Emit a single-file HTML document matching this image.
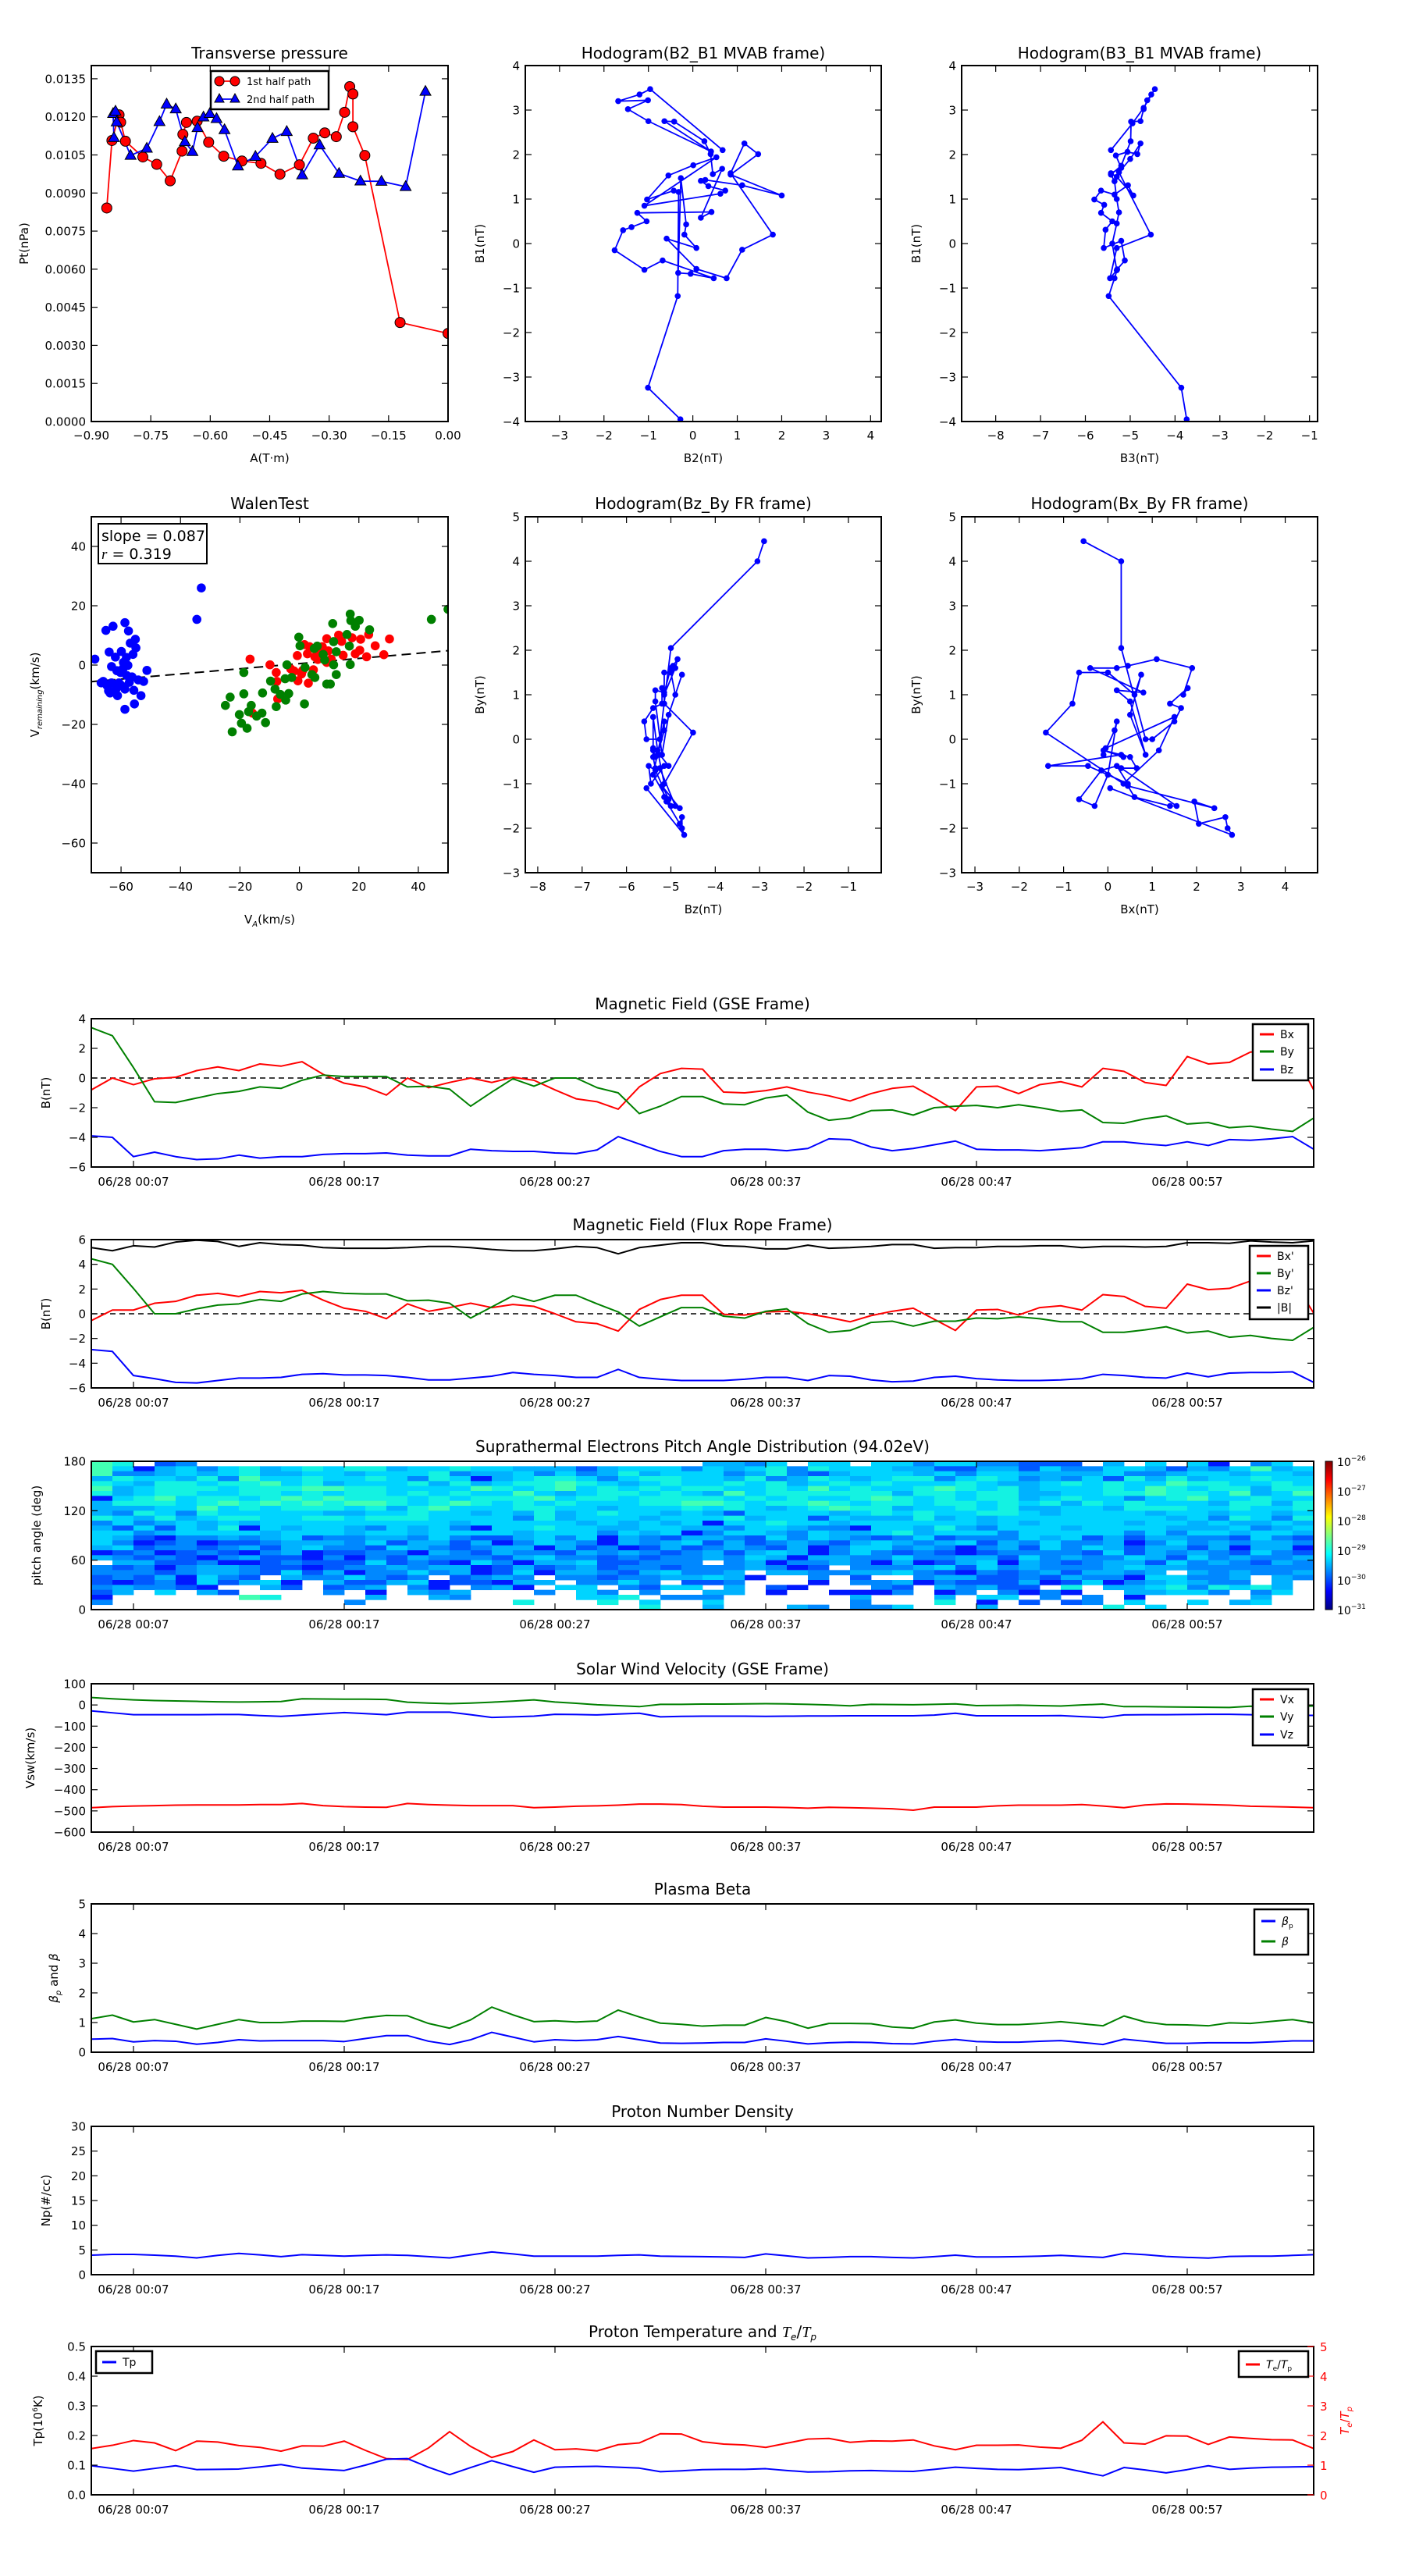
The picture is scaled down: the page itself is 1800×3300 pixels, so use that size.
<!DOCTYPE html>
<html><head><meta charset="utf-8">
<style>
html,body{margin:0;padding:0;background:#fff}
svg{display:block}
text{font-family:"DejaVu Sans","Liberation Sans",sans-serif;fill:#000}
</style></head>
<body>
<svg id="fig" width="1800" height="3300" viewBox="0 0 1800 3300">
<defs>
<linearGradient id="jet" x1="0" y1="1" x2="0" y2="0">
<stop offset="0" stop-color="#000080"/><stop offset="0.125" stop-color="#0000ff"/><stop offset="0.375" stop-color="#00ffff"/><stop offset="0.625" stop-color="#ffff00"/><stop offset="0.875" stop-color="#ff0000"/><stop offset="1" stop-color="#800000"/>
</linearGradient>
</defs>
</svg>
<script>
// ---------------- DATA ----------------
const tpRedA=[-0.861,-0.848,-0.830,-0.826,-0.814,-0.770,-0.735,-0.701,-0.671,-0.669,-0.660,-0.633,-0.604,-0.566,-0.520,-0.472,-0.424,-0.375,-0.340,-0.311,-0.282,-0.261,-0.248,-0.240,-0.240,-0.210,-0.121,0.0];
const tpRedP=[0.00841,0.01107,0.01208,0.01179,0.01104,0.01042,0.01013,0.00948,0.01065,0.01131,0.01178,0.01183,0.0110,0.01045,0.01026,0.01017,0.00974,0.01011,0.01116,0.01137,0.01122,0.01218,0.01319,0.0129,0.01161,0.01048,0.0039,0.00347];
const tpBlueA=[-0.843,-0.845,-0.839,-0.836,-0.801,-0.760,-0.728,-0.710,-0.687,-0.664,-0.645,-0.632,-0.617,-0.601,-0.584,-0.564,-0.530,-0.486,-0.443,-0.407,-0.368,-0.324,-0.275,-0.221,-0.168,-0.107,-0.057];
const tpBlueP=[0.01118,0.01213,0.01222,0.0118,0.01048,0.01076,0.01181,0.0125,0.01231,0.01102,0.01063,0.01157,0.01199,0.01213,0.01193,0.01149,0.01006,0.01044,0.01115,0.01142,0.00971,0.01089,0.00977,0.00947,0.00946,0.00925,0.013];
const tpXTicks=[-0.90,-0.75,-0.60,-0.45,-0.30,-0.15,0.00];
const tpYTicks=[0,0.0015,0.003,0.0045,0.006,0.0075,0.009,0.0105,0.012,0.0135];
const h1B2=[-0.28,-1.01,-0.34,-0.32,-0.43,-1.03,-0.55,0.01,0.53,-1.09,0.62,0.73,0.35,0.18,0.28,1.11,2.0,0.85,1.47,1.16,0.85,1.80,1.11,0.76,0.08,-0.59,0.08,-0.19,-0.15,-0.27,-0.33,-0.05,0.47,-0.68,-1.09,-1.76,-1.57,-1.38,-1.04,-1.25,0.42,0.18,0.66,0.45,0.40,0.26,-0.42,-0.64,0.41,-1.0,-1.46,-1.01,-1.68,-1.2,-0.96,0.67];
const h1B1=[-3.95,-3.24,-1.18,1.16,1.19,0.99,1.53,1.76,1.94,0.85,1.12,1.19,1.29,1.41,1.43,1.31,1.08,1.55,2.01,2.25,1.58,0.2,-0.14,-0.78,-0.57,0.11,-0.1,0.2,0.43,1.47,-0.66,-0.68,-0.78,-0.38,-0.59,-0.15,0.3,0.37,0.5,0.69,0.71,0.58,1.68,1.56,2.01,2.3,2.74,2.75,2.07,2.75,3.02,3.22,3.2,3.35,3.47,2.1];
const h2B3=[-3.74,-3.86,-5.48,-5.35,-5.29,-5.12,-5.2,-5.59,-5.55,-5.4,-5.65,-5.58,-5.8,-5.65,-5.35,-5.05,-4.93,-5.3,-5.43,-5.2,-5.32,-5.06,-4.84,-4.77,-5.0,-5.25,-4.54,-5.3,-5.45,-5.3,-5.4,-5.3,-5.25,-5.3,-5.35,-5.43,-5.2,-4.99,-4.98,-4.77,-4.7,-4.62,-4.53,-4.45,-4.7,-4.95,-5.43];
const h2B1=[-3.95,-3.24,-1.18,-0.78,-0.58,-0.38,0.06,-0.1,0.31,0.5,0.69,0.87,0.99,1.19,1.1,1.31,1.08,1.5,1.58,1.7,1.98,2.06,2.01,2.25,1.9,1.6,0.2,-0.1,-0.78,-0.6,0.0,0.45,0.7,1.0,1.4,1.55,1.75,2.3,2.74,2.75,3.02,3.22,3.35,3.47,3.05,2.7,2.1];
const wBlueX=[-68.8,-66.7,-65.1,-64,-62.7,-61.9,-63.2,-58.7,-57.5,-59.9,-55.2,-56.9,-55,-56,-58.2,-59.3,-57.7,-60.2,-61.4,-58.1,-56.3,-54.2,-52.4,-51.3,-55.7,-53.3,-55.5,-58.7,-61.2,-63.7,-64.7,-63.2,-59.9,-58.7,-61.7,-64.2,-60.7,-57.2,-59.2,-34.5,-33,-66,-64.5];
const wBlueY=[2.0,-6,11.7,4.4,13.1,2.7,-0.5,14.3,11.5,4.6,8.7,7.4,5.8,3.6,2.6,-1.1,-0.1,-2.5,-1.9,-3.5,-4,-5,-5.5,-1.8,-8.5,-10.3,-13.1,-14.9,-10.3,-9.4,-6.9,-6,-6.9,-8.1,-8.1,-8.7,-6,-5.8,0.9,15.4,26,-5.5,-7];
const wRedX=[-16.6,-9.9,-7.8,-7.6,-7.3,-15.8,-0.7,-0.5,3,1.1,2.7,1.7,3.4,5.2,7.2,7.7,9.2,9.7,9.2,13.2,14.2,14.7,10.7,17.7,18.8,20.3,20.6,23.3,22.6,25.5,28.4,30.3,-2.9,-1.8,0.7,4.7,6.2];
const wRedY=[2.0,0.1,-2.5,-5.5,-11.4,-16.2,3.2,-5.3,-6.1,-1.8,3.8,6.9,6.2,2.8,4.8,6.2,0.9,4.8,8.9,10.1,8,3.3,2.0,9.2,3.8,5,8.7,10.3,2.8,6.5,3.5,8.8,-1.3,-2,-3,-1.6,1.9];
const wGreenX=[-22.6,-24.9,-23.3,-20.2,-19.5,-17.6,-18.7,-18.7,-16.2,-17.1,-14.4,-12.6,-11.4,-12.4,-9.7,-8.2,-7.8,-6.4,-4.6,-3.6,-4.2,-4.8,-2.6,-0.2,0.2,1.7,1.9,4.2,5.2,5,6,8,8.5,9.2,10.4,11.2,11.5,11.5,12.4,12.4,16,16.8,17.1,17.1,17.3,18.8,20.1,23.6,44.4,50];
const wGreenY=[-22.5,-13.6,-10.8,-16.7,-19.6,-21.3,-2.5,-9.7,-13.6,-15.7,-17.2,-16.2,-19.4,-9.4,-5.4,-8.1,-14,-9.9,-11.8,-9.6,0.1,-4.6,-4.2,9.4,6.5,-13.1,-0.8,-3.2,-4.2,5.6,6.4,3.6,1.7,-6.4,-6.4,14,7.9,0.1,-3.2,4.5,10.3,6.4,17.2,0.2,15,13.1,15.1,11.9,15.4,18.8];
const walenSlope=[0.087];
const walenIntercept=[0.5];
const tStart=5;
const timeTickMin=[7,17,27,37,47,57];
const timeTickLbl=['06/28 00:07','06/28 00:17','06/28 00:27','06/28 00:37','06/28 00:47','06/28 00:57'];
const gseBx=[-0.8,0,-0.45,-0.05,0.05,0.5,0.75,0.5,0.95,0.8,1.1,0.25,-0.35,-0.6,-1.15,0,-0.65,-0.3,0,-0.3,0.05,-0.15,-0.8,-1.4,-1.6,-2.1,-0.6,0.3,0.65,0.6,-0.95,-1.0,-0.85,-0.6,-0.95,-1.2,-1.55,-1.05,-0.7,-0.55,-1.35,-2.2,-0.6,-0.55,-1.05,-0.45,-0.25,-0.6,0.65,0.45,-0.3,-0.5,1.45,0.95,1.05,1.75,1.85,1.9,-0.8];
const gseBy=[3.4,2.85,0.7,-1.6,-1.65,-1.35,-1.05,-0.9,-0.6,-0.7,-0.15,0.2,0.1,0.1,0.1,-0.6,-0.55,-0.75,-1.9,-0.95,-0.05,-0.55,0,0,-0.65,-1.0,-2.4,-1.9,-1.25,-1.25,-1.75,-1.8,-1.35,-1.15,-2.3,-2.85,-2.7,-2.2,-2.15,-2.5,-2.0,-1.9,-1.85,-2.0,-1.8,-2.0,-2.25,-2.15,-3.0,-3.05,-2.75,-2.55,-3.1,-3.0,-3.35,-3.25,-3.45,-3.6,-2.7];
const gseBz=[-3.9,-4.0,-5.3,-5.0,-5.3,-5.5,-5.45,-5.2,-5.4,-5.3,-5.3,-5.15,-5.1,-5.1,-5.05,-5.2,-5.25,-5.25,-4.8,-4.9,-4.95,-4.95,-5.05,-5.1,-4.85,-3.95,-4.45,-4.95,-5.3,-5.3,-4.9,-4.8,-4.8,-4.9,-4.75,-4.1,-4.15,-4.65,-4.9,-4.75,-4.5,-4.25,-4.8,-4.85,-4.85,-4.9,-4.8,-4.7,-4.3,-4.3,-4.45,-4.55,-4.3,-4.55,-4.15,-4.2,-4.1,-3.95,-4.8];
const frBx=[-0.55,0.3,0.3,0.85,1.0,1.5,1.65,1.4,1.8,1.7,1.9,1.1,0.45,0.2,-0.4,0.8,0.2,0.5,0.85,0.5,0.75,0.6,0,-0.65,-0.8,-1.4,0.35,1.15,1.5,1.5,-0.05,-0.1,0.15,0.2,0,-0.3,-0.65,-0.15,0.2,0.45,-0.45,-1.35,0.3,0.35,-0.1,0.5,0.65,0.3,1.55,1.4,0.6,0.45,2.4,1.95,2.05,2.65,2.7,2.8,0.05];
const frBy=[4.45,4.0,2.05,0,0,0.4,0.7,0.8,1.15,1.0,1.6,1.8,1.65,1.6,1.6,1.05,1.1,0.85,-0.35,0.55,1.45,1.0,1.5,1.5,0.8,0.15,-1.0,-0.25,0.5,0.5,-0.2,-0.35,0.2,0.4,-0.8,-1.5,-1.35,-0.7,-0.6,-1.0,-0.6,-0.6,-0.35,-0.4,-0.25,-0.4,-0.65,-0.65,-1.5,-1.5,-1.3,-1.05,-1.55,-1.4,-1.9,-1.75,-2.0,-2.15,-1.1];
const frBz=[-2.9,-3.05,-5.0,-5.25,-5.55,-5.6,-5.4,-5.2,-5.2,-5.15,-4.9,-4.85,-4.95,-4.95,-5.0,-5.15,-5.35,-5.35,-5.2,-5.05,-4.75,-4.9,-5.0,-5.15,-5.15,-4.5,-5.15,-5.3,-5.4,-5.4,-5.4,-5.3,-5.15,-5.15,-5.4,-5.0,-5.05,-5.35,-5.5,-5.45,-5.15,-5.05,-5.25,-5.35,-5.4,-5.4,-5.35,-5.25,-4.9,-5.0,-5.15,-5.2,-4.8,-5.1,-4.8,-4.75,-4.75,-4.7,-5.55];
const frBt=[5.35,5.1,5.5,5.4,5.8,5.95,5.85,5.45,5.75,5.6,5.55,5.35,5.3,5.3,5.3,5.35,5.45,5.45,5.35,5.2,5.1,5.1,5.25,5.45,5.35,4.85,5.35,5.55,5.75,5.75,5.5,5.45,5.25,5.25,5.55,5.3,5.35,5.45,5.6,5.6,5.3,5.35,5.35,5.45,5.45,5.5,5.5,5.35,5.45,5.45,5.4,5.45,5.75,5.75,5.7,5.9,5.8,5.75,5.9];
const swVx=[-485,-480,-477,-475,-473,-472,-472,-472,-470,-470,-465,-475,-480,-482,-483,-465,-470,-473,-475,-475,-475,-485,-482,-478,-476,-473,-468,-468,-470,-478,-482,-482,-482,-484,-487,-483,-485,-487,-490,-497,-482,-482,-482,-476,-473,-473,-473,-470,-477,-485,-472,-467,-468,-470,-473,-478,-480,-482,-485];
const swVy=[35,29,24,21,19,17,15,14,15,16,29,28,27,27,26,13,9,6,9,13,18,24,14,8,1,-3,-8,3,3,4,4,5,6,5,3,0,-4,3,2,1,3,5,-3,-2,-1,-3,-5,0,4,-8,-8,-9,-10,-11,-12,-6,-8,-6,-5];
const swVz=[-28,-37,-46,-46,-46,-46,-45,-45,-50,-54,-48,-42,-36,-41,-46,-34,-34,-34,-46,-59,-56,-53,-44,-45,-47,-43,-39,-56,-54,-53,-53,-53,-54,-53,-52,-52,-51,-51,-51,-51,-48,-39,-51,-51,-51,-51,-50,-55,-60,-47,-46,-46,-45,-44,-44,-46,-50,-49,-49];
const betaP=[0.44,0.46,0.35,0.39,0.37,0.27,0.33,0.42,0.38,0.39,0.39,0.39,0.36,0.46,0.56,0.56,0.37,0.26,0.42,0.67,0.51,0.35,0.42,0.39,0.42,0.53,0.42,0.31,0.30,0.31,0.33,0.33,0.45,0.37,0.28,0.32,0.34,0.33,0.29,0.28,0.37,0.43,0.36,0.34,0.34,0.37,0.39,0.33,0.26,0.44,0.37,0.30,0.30,0.32,0.32,0.32,0.35,0.38,0.38];
const betaT=[1.13,1.25,1.02,1.1,0.94,0.78,0.94,1.1,1.0,1.0,1.05,1.05,1.04,1.16,1.24,1.23,0.97,0.81,1.09,1.52,1.26,1.03,1.06,1.02,1.05,1.42,1.19,0.98,0.94,0.88,0.91,0.91,1.17,1.03,0.81,0.97,0.97,0.96,0.85,0.81,1.02,1.09,0.98,0.93,0.93,0.97,1.03,0.96,0.89,1.22,1.02,0.93,0.92,0.89,0.99,0.97,1.04,1.1,0.99];
const densNp=[3.95,4.1,4.1,3.95,3.75,3.4,3.9,4.3,4.0,3.65,4.05,3.9,3.75,3.9,4.0,3.9,3.65,3.4,4.0,4.6,4.2,3.75,3.75,3.75,3.75,3.9,4.0,3.75,3.7,3.65,3.6,3.5,4.2,3.8,3.4,3.5,3.65,3.65,3.5,3.4,3.65,3.95,3.6,3.6,3.65,3.75,3.9,3.7,3.5,4.3,4.05,3.7,3.5,3.35,3.7,3.75,3.75,3.9,4.05];
const tempTp=[0.098,0.089,0.080,0.089,0.098,0.085,0.086,0.087,0.094,0.102,0.090,0.086,0.082,0.100,0.120,0.122,0.093,0.068,0.092,0.115,0.095,0.076,0.093,0.095,0.096,0.093,0.090,0.078,0.081,0.085,0.086,0.086,0.088,0.082,0.077,0.078,0.081,0.082,0.080,0.079,0.086,0.093,0.089,0.086,0.085,0.088,0.092,0.078,0.064,0.092,0.084,0.074,0.085,0.098,0.086,0.090,0.093,0.094,0.095];
const tempRatio=[1.56,1.67,1.83,1.75,1.49,1.81,1.78,1.66,1.6,1.47,1.65,1.64,1.81,1.5,1.22,1.19,1.58,2.13,1.63,1.26,1.46,1.85,1.52,1.55,1.48,1.69,1.75,2.06,2.05,1.79,1.71,1.68,1.6,1.74,1.88,1.9,1.77,1.82,1.81,1.85,1.65,1.52,1.67,1.67,1.68,1.61,1.57,1.84,2.46,1.75,1.71,1.99,1.98,1.7,1.95,1.9,1.86,1.85,1.56];
const padRows=[
"76.23........................4435.55.5535533222.4.5.51.35.567",
"75145356456566455655444245553545636555442244253355424357455",
"73345456445545556344535346455534632455545355444453345545545",
"46554637556556536514566535665546346545663565343526464556556",
"65466566756455564645667654565565645656555654456565576655655",
"74566656667766555576567565656655657565567656455565765664664",
"64566556656566565655754566565475666666466566445566766574574",
"15675665676766656566675665666656565567656566456553567556556",
"46665676767677656765656555667765667656656656564656555466466",
"44455756566656467555665545556565456766455656445546665565565",
"43653655555445565545464565545425555456565566545555455455455",
"65464566556656665555364555455564552544464545555555545365365",
"35345454555555555455555454545155655455555545455554554544544",
"42525461545543545315565544554435543315546435554555544453453",
"55345555455545545555455535451355435445645553555553535545545",
"54213343452334435322453514324432535432352333545242443325325",
"53123122344435244241354314345242343245434524353341353434434",
"45233234245332543234414231242343241355343134253542442414414",
"12312321341223314324332434323424541353232123333252434325325",
"43232134221313243332453323233435414433533442534335425343343",
".4422311232225232153144522333.34133431412451432344253432432",
"32313443221233434412423423323334312.33345253433345443333333",
"3332344325241335341251443245334.4433445321323424434.4343343",
"23241532.4335323.2343.3323344541..3.2..3442232433155334.43",
"2123152451.42245122144.3353.223...1.3341322241251345433.4.3",
"343321..42.234.31.341.55.3255.4.21...32.43422.6.445636564",
"24.5.42....3.1.434...3.53.3..44.1..1113.13.3131..44553.35.4",
"1......76....4..43.....556.333......4...4.55.3.3.1.....4...",
"3...........3.......6...6.5..5......3...6.1.2.23.5..5.45...",
"..........................6..4...43.335...4.....6.5........."];
const padLevelColor={'1':'#0018ff','2':'#0058ff','3':'#0088ff','4':'#00b2ff','5':'#00d4ff','6':'#14f2e2','7':'#42ffb4'};
const cbLabels=['-26','-27','-28','-29','-30','-31'];

// ---------------- HELPERS ----------------
const NS='http://www.w3.org/2000/svg';
const svg=document.getElementById('fig');
function mk(tag,attrs,parent){const e=document.createElementNS(NS,tag);for(const k in attrs)e.setAttribute(k,attrs[k]);(parent||svg).appendChild(e);return e;}
function lin(d0,d1,r0,r1){return v=>r0+(v-d0)/(d1-d0)*(r1-r0);}
function mstr(v,d){const s=Math.abs(v).toFixed(d);return (v<-1e-12?'\u2212':'')+s;}
let clipN=0;
function panel(name,x0,y0,w,h,xd,yd){
  const g=mk('g',{});
  
  
  const id='clip'+(clipN++);
  const cp=mk('clipPath',{id:id},g);
  mk('rect',{x:x0,y:y0,width:w,height:h},cp);
  const dg=mk('g',{'clip-path':'url(#'+id+')'},g);
  
  
  return {g:g,dg:dg,x0:x0,y0:y0,w:w,h:h,X:lin(xd[0],xd[1],x0,x0+w),Y:lin(yd[0],yd[1],y0+h,y0)};
}
function frame(p){
  const r=mk('rect',{x:p.x0,y:p.y0,width:p.w,height:p.h,fill:'none',stroke:'#000','stroke-width':2},p.g);
  
  
}
function title(p,str,y){
  const t=mk('text',{x:p.x0+p.w/2,y:y,'text-anchor':'middle','font-size':20},p.g);
  t.textContent=str;
  
  
  return t;
}
function yTicks(p,vals,fmt,opt){
  opt=opt||{};
  vals.forEach(v=>{
    const y=p.Y(v);
    const t1=mk('line',{x1:p.x0,x2:p.x0+8,y1:y,y2:y,stroke:'#000','stroke-width':1.2},p.g);
    
    
    if(!opt.noRight){
      const t2=mk('line',{x1:p.x0+p.w,x2:p.x0+p.w-8,y1:y,y2:y,stroke:opt.rightColor||'#000','stroke-width':1.2},p.g);
      
      
    }
    const l=mk('text',{x:p.x0-7,y:y+5.5,'text-anchor':'end','font-size':15},p.g);
    l.textContent=fmt(v);
    
    
  });
}
function xTicks(p,vals,labels,opt){
  opt=opt||{};
  vals.forEach((v,i)=>{
    const x=p.X(v);
    const t1=mk('line',{x1:x,x2:x,y1:p.y0+p.h,y2:p.y0+p.h-8,stroke:'#000','stroke-width':1.2},p.g);
    
    
    const t2=mk('line',{x1:x,x2:x,y1:p.y0,y2:p.y0+8,stroke:'#000','stroke-width':1.2},p.g);
    
    
    const l=mk('text',{x:x,y:p.y0+p.h+(opt.dy||22),'text-anchor':'middle','font-size':15},p.g);
    l.textContent=labels[i];
    
    
  });
}
function xLabel(p,str,y){
  const t=mk('text',{x:p.x0+p.w/2,y:y,'text-anchor':'middle','font-size':15},p.g);
  t.textContent=str;
  
  
  return t;
}
function yLabel(p,str,x,color){
  const cy=p.y0+p.h/2;
  const t=mk('text',{x:x,y:cy,'text-anchor':'middle','font-size':15,transform:'rotate(-90 '+x+' '+cy+')'},p.g);
  if(color)t.setAttribute('style','fill:'+color);
  t.textContent=str;
  
  
  return t;
}
function line(p,xs,ys,color,w,name){
  let d='';
  for(let i=0;i<ys.length;i++){d+=(i?'L':'M')+p.X(xs[i]).toFixed(2)+','+p.Y(ys[i]).toFixed(2);}
  const pa=mk('path',{d:d,fill:'none',stroke:color,'stroke-width':w,'stroke-linejoin':'round'},p.dg);
  
  
  return pa;
}
function tArr(n){const a=[];for(let i=0;i<n;i++)a.push(tStart+i);return a;}
function legendBox(p,x,y,w,h){
  const r=mk('rect',{x:x,y:y,width:w,height:h,fill:'#fff',stroke:'#000','stroke-width':2.5},p.g);
  
  
}
function legendEntry(p,x,y,color,label,fs){
  const g=mk('g',{},p.g);
  
  
  mk('line',{x1:x,x2:x+18,y1:y,y2:y,stroke:color,'stroke-width':3},g);
  const t=mk('text',{x:x+26,y:y+5,'font-size':fs||14},g);
  t.innerHTML=label;
  return g;
}

// ---------------- ROW 1 ----------------
(function(){
  const p=panel('transverse-pressure-chart',117,84,457,456,[-0.9,0],[0,0.01402]);
  title(p,'Transverse pressure',75);
  line(p,tpRedA,tpRedP,'#ff0000',1.8,'first-half-path-line');
  line(p,tpBlueA,tpBlueP,'#0000ff',1.8,'second-half-path-line');
  tpRedA.forEach((a,i)=>{
    const c=mk('circle',{cx:p.X(a),cy:p.Y(tpRedP[i]),r:6.5,fill:'#ff0000',stroke:'#000','stroke-width':1},p.dg);
    
    
  });
  tpBlueA.forEach((a,i)=>{
    const x=p.X(a),y=p.Y(tpBlueP[i]);
    const t=mk('polygon',{points:(x)+','+(y-7.5)+' '+(x-7)+','+(y+5)+' '+(x+7)+','+(y+5),fill:'#0000ff',stroke:'#000','stroke-width':1},p.dg);
    
    
  });
  frame(p);
  yTicks(p,tpYTicks,v=>v.toFixed(4));
  xTicks(p,tpXTicks,tpXTicks.map(v=>mstr(v,2)),{dy:23});
  xLabel(p,'A(T\u00b7m)',592);
  yLabel(p,'Pt(nPa)',36);
  legendBox(p,270,91,151,49);
  const lg1=mk('g',{},p.g);
  
  
  mk('line',{x1:281,x2:301,y1:104,y2:104,stroke:'#ff0000','stroke-width':1.8},lg1);
  mk('circle',{cx:281,cy:104,r:6,fill:'#ff0000',stroke:'#000'},lg1);
  mk('circle',{cx:301,cy:104,r:6,fill:'#ff0000',stroke:'#000'},lg1);
  const lt1=mk('text',{x:316,y:109,'font-size':13},lg1); lt1.textContent='1st half path';
  const lg2=mk('g',{},p.g);
  
  
  mk('line',{x1:281,x2:301,y1:127,y2:127,stroke:'#0000ff','stroke-width':1.8},lg2);
  mk('polygon',{points:'281,120 275,131 287,131',fill:'#0000ff',stroke:'#000'},lg2);
  mk('polygon',{points:'301,120 295,131 307,131',fill:'#0000ff',stroke:'#000'},lg2);
  const lt2=mk('text',{x:316,y:132,'font-size':13},lg2); lt2.textContent='2nd half path';
})();

function hodo(name,x0,y0,w,h,xd,yd,xs,ys,xt,yt,ttl,ttlY,xl,xlY,yl,ylX){
  const p=panel(name,x0,y0,w,h,xd,yd);
  title(p,ttl,ttlY);
  line(p,xs,ys,'#0000ff',1.8,'hodogram-path');
  xs.forEach((v,i)=>{
    const c=mk('circle',{cx:p.X(v),cy:p.Y(ys[i]),r:3.8,fill:'#0000ff'},p.dg);
    
    
  });
  frame(p);
  yTicks(p,yt,v=>mstr(v,0));
  xTicks(p,xt,xt.map(v=>mstr(v,0)),{dy:23});
  xLabel(p,xl,xlY);
  yLabel(p,yl,ylX);
  return p;
}
hodo('hodogram-b2-b1-chart',673,84,456,456,[-3.77,4.24],[-4,4],h1B2,h1B1,[-3,-2,-1,0,1,2,3,4],[-4,-3,-2,-1,0,1,2,3,4],'Hodogram(B2_B1 MVAB frame)',75,'B2(nT)',592,'B1(nT)',620);
hodo('hodogram-b3-b1-chart',1232,84,456,456,[-8.76,-0.82],[-4,4],h2B3,h2B1,[-8,-7,-6,-5,-4,-3,-2,-1],[-4,-3,-2,-1,0,1,2,3,4],'Hodogram(B3_B1 MVAB frame)',75,'B3(nT)',592,'B1(nT)',1179);

// ---------------- ROW 2 ----------------
(function(){
  const p=panel('walen-test-chart',117,662,457,456,[-70,50],[-70,50]);
  title(p,'WalenTest',652);
  const fx=[-70,50];
  const fy=fx.map(x=>walenSlope[0]*x+walenIntercept[0]);
  const fl=line(p,fx,fy,'#000',2,'walen-fit-line');
  fl.setAttribute('stroke-dasharray','12,7');
  [[wBlueX,wBlueY,'#0000ff','blue-point'],[wRedX,wRedY,'#ff0000','red-point'],[wGreenX,wGreenY,'#008000','green-point']].forEach(s=>{
    s[0].forEach((x,i)=>{
      const c=mk('circle',{cx:p.X(x),cy:p.Y(s[1][i]),r:5.8,fill:s[2]},p.dg);
      
      
    });
  });
  frame(p);
  yTicks(p,[-60,-40,-20,0,20,40],v=>mstr(v,0));
  xTicks(p,[-60,-40,-20,0,20,40],['\u221260','\u221240','\u221220','0','20','40'],{dy:23});
  const xl=xLabel(p,'',1183);
  xl.innerHTML='V<tspan font-style="italic" font-size="10" dy="4">A</tspan><tspan dy="-4">(km/s)</tspan>';
  const yl=yLabel(p,'',50);
  yl.innerHTML='V<tspan font-style="italic" font-size="10" dy="4">remaining</tspan><tspan dy="-4">(km/s)</tspan>';
  const bx=mk('rect',{x:126,y:671,width:139,height:51,fill:'#fff',stroke:'#000','stroke-width':2},p.g);
  
  
  const s1=mk('text',{x:130,y:693,'font-size':19},p.g);
  s1.textContent='slope = 0.087';
  
  
  const s2=mk('text',{x:130,y:716,'font-size':19},p.g);
  s2.innerHTML='<tspan font-style="italic" font-family="Liberation Serif">r</tspan> = 0.319';
  
  
})();
hodo('hodogram-bz-by-fr-chart',673,662,456,456,[-8.28,-0.26],[-3,5],frBz,frBy,[-8,-7,-6,-5,-4,-3,-2,-1],[-3,-2,-1,0,1,2,3,4,5],'Hodogram(Bz_By FR frame)',652,'Bz(nT)',1170,'By(nT)',620);
hodo('hodogram-bx-by-fr-chart',1232,662,456,456,[-3.30,4.73],[-3,5],frBx,frBy,[-3,-2,-1,0,1,2,3,4],[-3,-2,-1,0,1,2,3,4,5],'Hodogram(Bx_By FR frame)',652,'Bx(nT)',1170,'By(nT)',1179);

// ---------------- TIME SERIES ----------------
const TX0=117,TW=1566,TH=190;
function tpanel(name,y0,yd,ttl){
  const p=panel(name,TX0,y0,TW,TH,[5,63],yd);
  const t=title(p,ttl,y0-12);
  p.title=t;
  return p;
}
function tAxes(p,yt,fmt,opt){
  frame(p);
  yTicks(p,yt,fmt,opt);
  xTicks(p,timeTickMin,timeTickLbl,{dy:24});
}
function zeroLine(p){
  const l=mk('line',{x1:p.x0,x2:p.x0+p.w,y1:p.Y(0),y2:p.Y(0),stroke:'#000','stroke-width':1.5,'stroke-dasharray':'7,5'},p.dg);
  
  
}
(function(){
  const p=tpanel('magnetic-field-gse-chart',1305,[-6,4],'Magnetic Field (GSE Frame)');
  zeroLine(p);
  const t=tArr(gseBx.length);
  line(p,t,gseBx,'#ff0000',2,'bx-line');
  line(p,t,gseBy,'#008000',2,'by-line');
  line(p,t,gseBz,'#0000ff',2,'bz-line');
  tAxes(p,[-6,-4,-2,0,2,4],v=>mstr(v,0));
  yLabel(p,'B(nT)',64);
  legendBox(p,1605,1312,71,72);
  legendEntry(p,1614,1325,'#ff0000','Bx');
  legendEntry(p,1614,1347,'#008000','By');
  legendEntry(p,1614,1370,'#0000ff','Bz');
})();
(function(){
  const p=tpanel('magnetic-field-flux-rope-chart',1588,[-6,6],'Magnetic Field (Flux Rope Frame)');
  zeroLine(p);
  const t=tArr(frBx.length);
  line(p,t,frBt,'#000',2,'b-magnitude-line');
  line(p,t,frBx,'#ff0000',2,'bx-prime-line');
  line(p,t,frBy,'#008000',2,'by-prime-line');
  line(p,t,frBz,'#0000ff',2,'bz-prime-line');
  tAxes(p,[-6,-4,-2,0,2,4,6],v=>mstr(v,0));
  yLabel(p,'B(nT)',64);
  legendBox(p,1601,1596,75,94);
  legendEntry(p,1610,1609,'#ff0000',"Bx'");
  legendEntry(p,1610,1631,'#008000',"By'");
  legendEntry(p,1610,1653,'#0000ff',"Bz'");
  legendEntry(p,1610,1675,'#000',"|B|");
})();
(function(){
  const p=tpanel('pitch-angle-distribution-chart',1872,[0,180],'Suprathermal Electrons Pitch Angle Distribution (94.02eV)');
  const ncol=58;
  padRows.forEach((row,r)=>{
    const aTop=180-6*r, aBot=174-6*r;
    for(let c=0;c<ncol;c++){
      const ch=row[c]||'.';
      if(ch==='.')continue;
      const x1=p.X(tStart+c), x2=p.X(tStart+c+1);
      const cell=mk('rect',{x:x1.toFixed(2),y:p.Y(aTop).toFixed(2),width:(x2-x1+0.4).toFixed(2),height:(p.Y(aBot)-p.Y(aTop)+0.4).toFixed(2),fill:padLevelColor[ch]},p.dg);
      
      
    }
  });
  tAxes(p,[0,60,120,180],v=>String(v));
  yLabel(p,'pitch angle (deg)',52);
  const cb=mk('rect',{x:1698,y:1872,width:9,height:190,fill:'url(#jet)',stroke:'#000','stroke-width':1},p.g);
  
  
  cbLabels.forEach((e,i)=>{
    const y=1872+i*38;
    const tk=mk('text',{x:1713,y:y+6,'font-size':14},p.g);
    tk.innerHTML='10<tspan font-size="9" dy="-7">'+e.replace('-','\u2212')+'</tspan>';
    
    
  });
})();
(function(){
  const p=tpanel('solar-wind-velocity-chart',2157,[-600,100],'Solar Wind Velocity (GSE Frame)');
  const t=tArr(swVx.length);
  line(p,t,swVx,'#ff0000',2,'vx-line');
  line(p,t,swVy,'#008000',2,'vy-line');
  line(p,t,swVz,'#0000ff',2,'vz-line');
  tAxes(p,[-600,-500,-400,-300,-200,-100,0,100],v=>mstr(v,0));
  yLabel(p,'Vsw(km/s)',44);
  legendBox(p,1605,2164,71,72);
  legendEntry(p,1614,2177,'#ff0000','Vx');
  legendEntry(p,1614,2199,'#008000','Vy');
  legendEntry(p,1614,2222,'#0000ff','Vz');
})();
(function(){
  const p=tpanel('plasma-beta-chart',2439,[0,5],'Plasma Beta');
  const t=tArr(betaP.length);
  line(p,t,betaT,'#008000',2,'beta-line');
  line(p,t,betaP,'#0000ff',2,'beta-p-line');
  tAxes(p,[0,1,2,3,4,5],v=>String(v));
  const yl=yLabel(p,'',74);
  yl.innerHTML='<tspan font-style="italic">\u03b2</tspan><tspan font-size="10" font-style="italic" dy="4">p</tspan><tspan dy="-4"> and </tspan><tspan font-style="italic">\u03b2</tspan>';
  legendBox(p,1607,2446,69,58);
  legendEntry(p,1616,2461,'#0000ff','<tspan font-style="italic">\u03b2</tspan><tspan font-size="9" dy="4">p</tspan>');
  legendEntry(p,1616,2487,'#008000','<tspan font-style="italic">\u03b2</tspan>');
})();
(function(){
  const p=tpanel('proton-density-chart',2724,[0,30],'Proton Number Density');
  const t=tArr(densNp.length);
  line(p,t,densNp,'#0000ff',2,'np-line');
  tAxes(p,[0,5,10,15,20,25,30],v=>String(v));
  yLabel(p,'Np(#/cc)',64);
})();
(function(){
  const p=tpanel('proton-temperature-chart',3006,[0,0.5],'');
  p.title.innerHTML='Proton Temperature and <tspan font-style="italic" font-family="Liberation Serif">T</tspan><tspan font-size="12" font-style="italic" dy="4">e</tspan><tspan dy="-4">/</tspan><tspan font-style="italic" font-family="Liberation Serif">T</tspan><tspan font-size="12" font-style="italic" dy="4">p</tspan>';
  const t=tArr(tempTp.length);
  const Yr=lin(0,5,p.y0+p.h,p.y0);
  let d='';
  tempRatio.forEach((v,i)=>{d+=(i?'L':'M')+p.X(t[i]).toFixed(2)+','+Yr(v).toFixed(2);});
  const rp=mk('path',{d:d,fill:'none',stroke:'#ff0000','stroke-width':2},p.dg);
  
  
  line(p,t,tempTp,'#0000ff',2,'tp-line');
  tAxes(p,[0,0.1,0.2,0.3,0.4,0.5],v=>v.toFixed(1),{rightColor:'#ff0000'});
  [0,1,2,3,4,5].forEach(v=>{
    const l=mk('text',{x:p.x0+p.w+8,y:Yr(v)+6,'font-size':15,style:'fill:#ff0000'},p.g);
    l.textContent=String(v);
    
    
  });
  const yl=yLabel(p,'',54);
  yl.innerHTML='Tp(10<tspan font-size="9" dy="-6">6</tspan><tspan dy="6">K)</tspan>';
  const ry=yLabel(p,'',1728,'#ff0000');
  ry.innerHTML='<tspan font-style="italic">T</tspan><tspan font-size="10" font-style="italic" dy="4">e</tspan><tspan dy="-4">/</tspan><tspan font-style="italic">T</tspan><tspan font-size="10" font-style="italic" dy="4">p</tspan>';
  legendBox(p,123,3012,72,28);
  legendEntry(p,131,3026,'#0000ff','Tp');
  legendBox(p,1587,3012,89,33);
  legendEntry(p,1596,3029,'#ff0000','<tspan font-style="italic">T</tspan><tspan font-size="9" dy="3">e</tspan><tspan dy="-3">/</tspan><tspan font-style="italic">T</tspan><tspan font-size="9" dy="3">p</tspan>');
})();
</script>
</body></html>
